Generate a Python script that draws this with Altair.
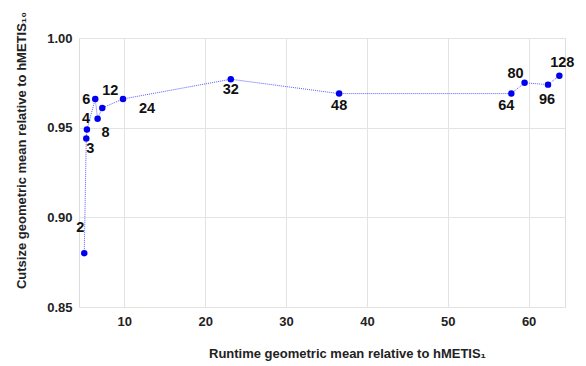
import altair as alt
import pandas as pd

parts = [2, 3, 4, 6, 8, 12, 24, 32, 48, 64, 80, 96, 128]
runtime = [5.05, 5.30, 5.38, 6.41, 6.70, 7.28, 9.84, 23.17, 36.57, 57.86, 59.50, 62.40, 63.80]
cutsize = [0.880, 0.944, 0.949, 0.966, 0.955, 0.961, 0.966, 0.977, 0.969, 0.969, 0.975, 0.974, 0.979]
labels = [str(p) for p in parts]

df = pd.DataFrame({"parts": parts, "runtime": runtime, "cutsize": cutsize, "label": labels})

FONT = "Liberation Sans"

x = alt.X(
    "runtime:Q",
    scale=alt.Scale(domain=[4.4, 64.5], nice=False, zero=False),
    axis=alt.Axis(
        title="Runtime geometric mean relative to hMETIS₁",
        values=[10, 20, 30, 40, 50, 60],
        format="d",
        domain=False, ticks=False, labelPadding=8,
        labelFont=FONT, labelFontSize=13, labelFontWeight="bold", labelColor="#222",
        titleFont=FONT, titleFontSize=13, titleFontWeight="bold", titleColor="#222",
        titleX=268, titleY=46, titleBaseline="middle",
        gridColor="#e3e3e3",
    ),
)
y = alt.Y(
    "cutsize:Q",
    scale=alt.Scale(domain=[0.85, 1.0], nice=False, zero=False),
    axis=alt.Axis(
        title="Cutsize geometric mean relative to hMETIS₁₀",
        values=[0.85, 0.90, 0.95, 1.00],
        format=".2f",
        domain=False, ticks=False, labelPadding=7,
        labelFont=FONT, labelFontSize=13, labelFontWeight="bold", labelColor="#222",
        titleFont=FONT, titleFontSize=13, titleFontWeight="bold", titleColor="#222",
        titleX=-58, titleY=112, titleBaseline="middle", titleAngle=270,
        gridColor="#e3e3e3",
    ),
)

base = alt.Chart(df)

line = base.mark_line(color="#3333ff", strokeWidth=1, strokeDash=[1, 1], opacity=0.8).encode(
    x=x, y=y, order="parts:Q"
)
points = base.mark_circle(color="#0000ee", size=42, opacity=1).encode(x=x, y=y)

# label offsets (dx, dy) per point label, as in the reference
offsets = {
    "2": (-4, -25), "3": (4, 11), "4": (-1, -10), "6": (-9, 1), "8": (8, 14),
    "12": (8, -17), "24": (24, 10), "32": (0, 11), "48": (0, 12), "64": (-5, 12),
    "80": (-9, -9), "96": (-1, 15), "128": (3, -13),
}
texts = []
for lab, (dx, dy) in offsets.items():
    texts.append(
        base.transform_filter(alt.datum.label == lab)
        .mark_text(font=FONT, fontSize=14.5, fontWeight="bold", color="#111",
                   dx=dx, dy=dy, align="center", baseline="middle")
        .encode(x=x, y=y, text="label:N")
    )

chart = alt.layer(line, points, *texts).properties(
    width=486, height=269,
    autosize=alt.AutoSizeParams(type="none"),
    padding={"left": 71, "top": 30, "right": 13, "bottom": 56},
).configure_view(stroke=None).configure(background="white")

chart.save("out.html", embed_options={"renderer": "svg", "actions": False})
